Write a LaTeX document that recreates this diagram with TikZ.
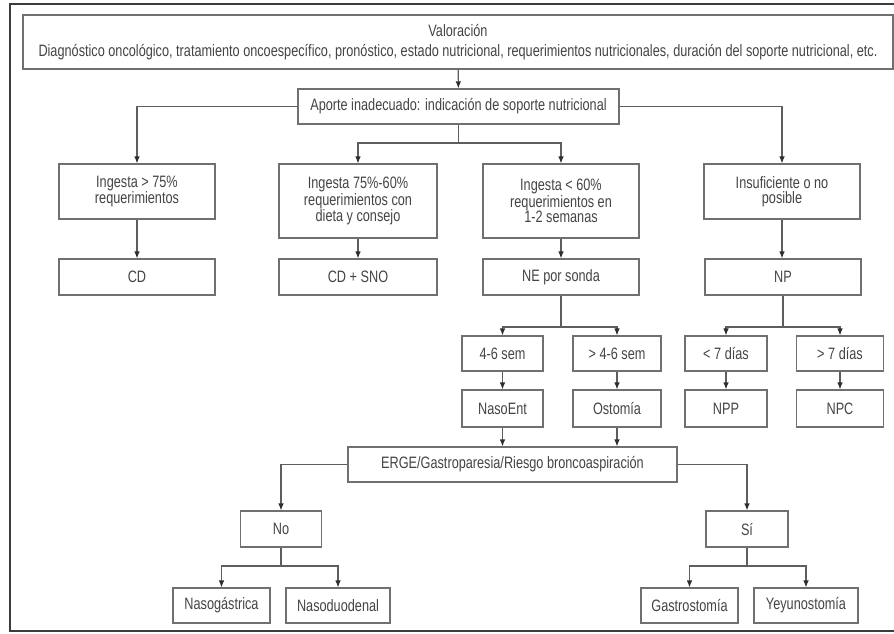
\documentclass[tikz,border=0pt]{standalone}
\usepackage{fontspec}
\setmainfont{Liberation Sans}[FakeStretch=0.77]
\usetikzlibrary{arrows.meta}
\definecolor{linegray}{HTML}{5E5E5E}
\definecolor{boxgray}{HTML}{707070}
\definecolor{txtgray}{HTML}{444444}
\definecolor{framegray}{HTML}{3C3C3C}
\definecolor{tipgray}{HTML}{2E2E2E}
\begin{document}
\begin{tikzpicture}[x=1pt,y=-1pt,
  bx/.style={draw=boxgray, line width=1.1pt, inner sep=0pt, align=center, text=txtgray,
    font=\fontsize{16.5}{15}\selectfont, minimum height=36pt},
  ln/.style={draw=linegray, line width=1.1pt},
  arr/.style={ln, -{Latex[length=7pt,width=5.5pt,color=tipgray]}}]
\useasboundingbox (0,0) rectangle (894,633);
\draw[framegray, line width=2pt] (894,4) -- (10,4) -- (10,631) -- (894,631);

% nodes
\node[bx, minimum width=870pt, minimum height=54pt] (val) at (458,42)
  {Valoración\\[5pt]Diagnóstico oncológico, tratamiento oncoespecífico, pronóstico, estado nutricional, requerimientos nutricionales, duración del soporte nutricional, etc.};
\node[bx, minimum width=321pt, minimum height=35pt] (apo) at (458.5,106.5)
  {Aporte inadecuado: indicación de soporte nutricional};

\node[bx, minimum width=156pt, minimum height=55pt] (i75) at (137,191.5) {Ingesta > 75\%\\requerimientos};
\node[bx, minimum width=158pt, minimum height=74pt] (i7560) at (358,201) {Ingesta 75\%-60\%\\requerimientos con\\dieta y consejo};
\node[bx, minimum width=156pt, minimum height=74pt] (i60) at (561,201) {Ingesta < 60\%\\requerimientos en\\1-2 semanas};
\node[bx, minimum width=156pt, minimum height=55pt] (insuf) at (782,191.5) {Insuficiente o no\\posible};

\node[bx, minimum width=156pt] (cd) at (137,277) {CD};
\node[bx, minimum width=158pt] (cdsno) at (358,277) {CD + SNO};
\node[bx, minimum width=156pt] (ne) at (561,277) {NE por sonda};
\node[bx, minimum width=156pt] (np) at (783,277) {NP};

\node[bx, minimum width=81pt, minimum height=35pt] (s46) at (502.5,353.5) {4-6 sem};
\node[bx, minimum width=88pt, minimum height=35pt] (m46) at (617,353.5) {> 4-6 sem};
\node[bx, minimum width=82pt, minimum height=35pt] (l7) at (726,353.5) {< 7 días};
\node[bx, minimum width=87pt, minimum height=35pt] (g7) at (840,353.5) {> 7 días};

\node[bx, minimum width=81pt, minimum height=37pt] (naso) at (502.5,408.5) {NasoEnt};
\node[bx, minimum width=88pt, minimum height=37pt] (osto) at (617,408.5) {Ostomía};
\node[bx, minimum width=82pt, minimum height=37pt] (npp) at (726,408.5) {NPP};
\node[bx, minimum width=87pt, minimum height=37pt] (npc) at (840,408.5) {NPC};

\node[bx, minimum width=329pt, minimum height=35pt] (erge) at (512.5,464.5) {ERGE/Gastroparesia/Riesgo broncoaspiración};

\node[bx, minimum width=81pt] (no) at (281,529) {No};
\node[bx, minimum width=82pt] (si) at (747,529) {Sí};

\node[bx, minimum width=97pt, minimum height=35pt] (nasog) at (221.5,605.5) {Nasogástrica};
\node[bx, minimum width=104pt, minimum height=35pt] (nasod) at (338,605.5) {Nasoduodenal};
\node[bx, minimum width=97pt, minimum height=35pt] (gastro) at (689.5,605.5) {Gastrostomía};
\node[bx, minimum width=104pt, minimum height=35pt] (yeyu) at (806,605.5) {Yeyunostomía};

% junction coordinates
\coordinate (j1) at (458.5,143);
\coordinate (j2) at (561,327);
\coordinate (j3) at (783,327);
\coordinate (j4) at (281,566);
\coordinate (j5) at (747,566);

% connectors
\draw[arr] (val) -- (apo);
\draw[arr] (apo.west) -| (i75.north);
\draw[arr] (apo.east) -| (insuf.north);
\draw[ln] (apo.south) -- (j1);
\draw[arr] (j1) -| (i7560.north);
\draw[arr] (j1) -| (i60.north);

\draw[arr] (i75) -- (cd);
\draw[arr] (i7560) -- (cdsno);
\draw[arr] (i60) -- (ne);
\draw[arr] (insuf.south) -- (insuf.south |- np.north);

\draw[ln] (ne.south) -- (j2);
\draw[arr] (j2) -| (s46.north);
\draw[arr] (j2) -| (m46.north);
\draw[ln] (np.south) -- (j3);
\draw[arr] (j3) -| (l7.north);
\draw[arr] (j3) -| (g7.north);

\draw[arr] (s46) -- (naso);
\draw[arr] (m46) -- (osto);
\draw[arr] (l7) -- (npp);
\draw[arr] (g7) -- (npc);

\draw[arr] (naso.south) -- (naso.south |- erge.north);
\draw[arr] (osto.south) -- (osto.south |- erge.north);

\draw[arr] (erge.west) -| (no.north);
\draw[arr] (erge.east) -| (si.north);

\draw[ln] (no.south) -- (j4);
\draw[arr] (j4) -| (nasog.north);
\draw[arr] (j4) -| (nasod.north);
\draw[ln] (si.south) -- (j5);
\draw[arr] (j5) -| (gastro.north);
\draw[arr] (j5) -| (yeyu.north);
\end{tikzpicture}
\end{document}
